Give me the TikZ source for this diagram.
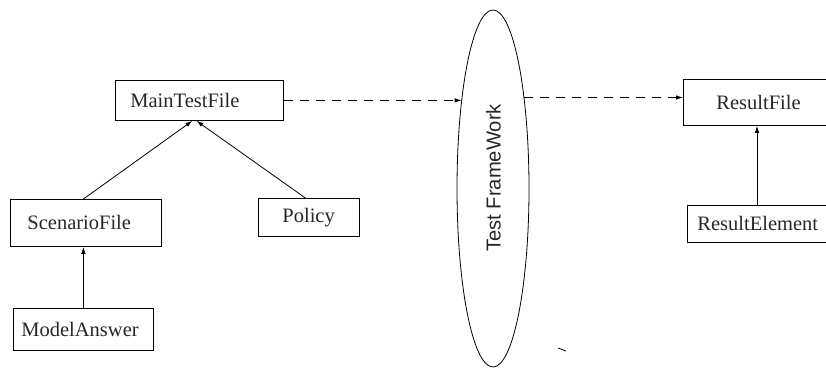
\documentclass[tikz,border=0pt]{standalone}
\usepackage{fontspec}
\setmainfont{Liberation Serif}
\newfontfamily\tfsans{Liberation Sans}
\usetikzlibrary{shapes.geometric,arrows.meta}
\begin{document}
\begin{tikzpicture}[x=1pt,y=-1pt,
  line width=0.8pt,
  boxnode/.style={draw, anchor=north west, inner ysep=0pt, align=left, text=black!85,
    font=\fontsize{20.5}{24}\selectfont},
  arr/.style={-{Latex[length=7pt,width=4.5pt]}},
  dasharr/.style={arr, dash pattern=on 9pt off 7pt}]
\useasboundingbox (0,0) rectangle (826,368);
% boxes (width = text width + 2*inner xsep)
\node[boxnode, inner xsep=15pt, text width=138pt, minimum height=40pt] (mt) at (115,80) {MainTestFile};
\node[boxnode, inner xsep=17pt, text width=117pt, minimum height=47pt] (sf) at (10,199) {ScenarioFile};
\node[boxnode, inner xsep=24pt, text width=53pt, minimum height=38pt] (po) at (258,198) {Policy};
\node[boxnode, inner xsep=8pt, text width=124pt, minimum height=42pt] (ma) at (13,308) {ModelAnswer};
\node[boxnode, inner xsep=33pt, text width=110pt, minimum height=46pt] (rf) at (683,79) {ResultFile};
\node[boxnode, inner xsep=10pt, text width=140pt, minimum height=37pt] (re) at (687,205) {ResultElement};
% ellipse
\node[draw, ellipse, inner sep=0pt, minimum width=72pt, minimum height=357pt] (tf) at (493,188.5) {};
\node[rotate=90, text=black!85, font=\tfsans\fontsize{20.2}{24}\selectfont] (tft) at (493.5,178) {Test FrameWork};
% connectors
\draw[arr] ([xshift=-2.5pt]sf.north) -- ([xshift=-7pt]mt.south);
\draw[arr] ([xshift=-3.5pt]po.north) -- ([xshift=-3pt]mt.south);
\draw[arr] (ma.north) -- (ma.north |- sf.south);
\draw[arr] ([xshift=70pt]re.north west) -- ([xshift=70pt]re.north west |- rf.south);
\draw[dasharr] (mt.east) -- (mt.east -| tf.109.5);
\coordinate (tfo) at (tf.71.3);
\draw[dasharr] (tfo) -- (tfo -| rf.west);
% stray tick
\draw (558,348) -- (566,351);
\end{tikzpicture}
\end{document}
